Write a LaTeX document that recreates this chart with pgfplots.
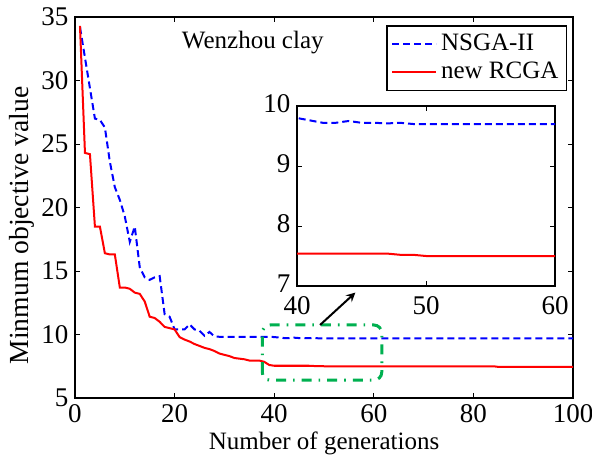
\documentclass[border=0pt]{standalone}
\usepackage{pgfplots}
\pgfplotsset{compat=1.18}
\usepackage{fontspec}
\setmainfont{Liberation Serif}
\definecolor{mygreen}{RGB}{0,176,80}
\pgfplotstableread{
x y
1 34.2
2 31.8
3 29.4
4 27.0
5 26.9
6 26.3
7 23.6
8 21.6
9 20.6
10 19.3
11 17.3
12 18.5
13 15.3
14 14.5
15 14.3
16 14.5
17 14.6
18 11.6
19 11.4
20 10.4
21 10.4
22 10.4
23 10.8
24 10.4
25 10.3
26 9.9
27 10.2
28 9.85
29 9.82
35 9.82
39 9.82
40 9.80
41 9.76
42 9.72
43 9.72
44 9.75
45 9.72
46 9.72
47 9.71
48 9.72
49 9.70
60 9.70
80 9.70
100 9.70
}\nsga
\pgfplotstableread{
x y
1 34.3
2 24.3
3 24.2
4 18.5
5 18.5
6 16.4
7 16.3
8 16.3
9 13.7
10 13.7
11 13.6
12 13.3
13 13.2
14 12.6
15 11.4
16 11.3
17 11.0
18 10.6
19 10.5
20 10.4
21 9.8
22 9.6
23 9.45
24 9.25
25 9.1
26 8.95
27 8.85
28 8.7
29 8.5
30 8.4
31 8.3
32 8.15
33 8.1
34 8.05
35 7.95
36 7.95
37 7.95
38 7.85
39 7.6
40 7.54
47 7.54
48 7.52
49 7.52
50 7.50
84 7.50
85 7.45
100 7.45
}\rcga
\begin{document}
\fontsize{12.5}{15}\selectfont
\begin{tikzpicture}
\pgfplotsset{
  mstyle/.style={
    scale only axis,
    tick align=inside,
    tick pos=both,
    axis line style={line width=0.6pt},
    every tick/.style={black, line width=0.5pt},
    major tick length=2.5pt,
    /pgf/number format/assume math mode=true,
    tick label style={font=\fontsize{13.5}{15}\selectfont},
    label style={font=\fontsize{12.5}{15}\selectfont},
    xticklabel style={yshift=1pt},
    yticklabel style={xshift=1pt},
  }
}
\begin{axis}[mstyle, name=main,
  at={(0,0)}, anchor=south west,
  width=249pt, height=190.5pt,
  xmin=0, xmax=100, ymin=5, ymax=35,
  xtick={0,20,40,60,80,100},
  ytick={5,10,15,20,25,30,35},
  xlabel={Number of generations},
  ylabel={Minmum objective value},
  xlabel style={yshift=4pt},
  ylabel style={yshift=-5pt, xshift=-9pt, font=\fontsize{13.8}{15}\selectfont},
  legend style={at={(0.988,0.978)}, anchor=north east, draw=black, line width=0.6pt,
    font=\fontsize{12.5}{15}\selectfont, row sep=0pt, inner sep=2pt, cells={anchor=west}},
  legend cell align=left,
  legend image code/.code={\draw[#1] (0pt,0pt) -- (22pt,0pt);},
]
\addplot[blue, line width=1pt, dash pattern=on 3.5pt off 2pt] table[x=x,y=y] {\nsga};
\addlegendentry{NSGA-II}
\addplot[red, line width=1pt] table[x=x,y=y] {\rcga};
\addlegendentry{new RCGA}
\node at (axis cs:35.7,33.0) {Wenzhou clay};
\draw[mygreen, line width=1.5pt, rounded corners=4pt, dash pattern=on 5pt off 3.5pt on 0.8pt off 3.5pt]
  (axis cs:37.6,6.4) rectangle (axis cs:61.6,10.75);
\draw[black, line width=1pt, -stealth] (axis cs:49.2,10.75) -- (axis cs:56.3,13.3);
\end{axis}
\begin{axis}[mstyle,
  at={(111pt,146pt)}, anchor=north west,
  width=129pt, height=90pt,
  xmin=40, xmax=60, ymin=7, ymax=10,
  xtick={40,50,60}, ytick={7,8,9,10},
  xticklabel style={yshift=-2pt},
  yticklabel style={yshift=1pt},
  axis background/.style={fill=white},
]
\addplot[blue, line width=1pt, dash pattern=on 3.5pt off 2pt] table[x=x,y=y] {\nsga};
\addplot[red, line width=1pt] table[x=x,y=y] {\rcga};
\end{axis}
\pgfresetboundingbox
\useasboundingbox (-37.5pt,-31.5pt) rectangle (258.5pt,199pt);
\end{tikzpicture}
\end{document}
